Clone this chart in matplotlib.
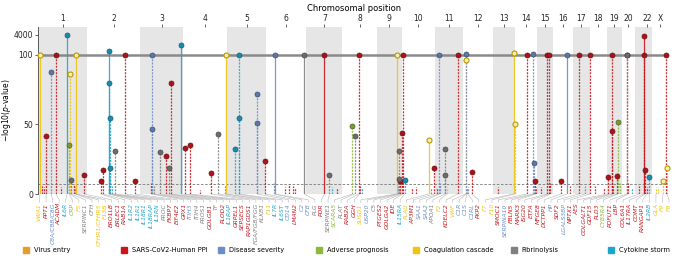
import numpy as np
import matplotlib
matplotlib.use('Agg')
import matplotlib.pyplot as plt
from matplotlib.lines import Line2D
from matplotlib.colors import to_rgb

# Chromosome layout on the cumulative genome axis
chrom_names = ['1', '2', '3', '4', '5', '6', '7', '8', '9', '10', '11', '12',
               '13', '14', '15', '16', '17', '18', '19', '20', '21', '22', 'X']
chrom_edges = [39, 88, 141, 184, 228, 267, 307, 343, 377, 402, 435, 463,
               493, 515, 537, 553, 573, 590, 607, 622, 635, 643, 652, 668]
chrom_shaded = [1, 0, 1, 0, 1, 0, 1, 0, 1, 0, 1, 0,
                1, 0, 1, 0, 1, 0, 1, 0, 1, 1, 0]

# Categories
cat_keys = ['V', 'P', 'D', 'A', 'C', 'F', 'S']
cat_names = ['Virus entry', 'SARS-CoV2-Human PPI', 'Disease severity',
             'Adverse prognosis', 'Coagulation cascade', 'Fibrinolysis',
             'Cytokine storm']
cat_colors = ['#E89B2E', '#C8161D', '#6C8DC9', '#8CB83C', '#F1C40F',
              '#808080', '#1FA5CB']

# Labelled genes: name, category, position, peak -log10(p)
gene_names = ['VWA1', 'PPT1', 'C8A/C8B/C8G', 'ACADM', 'IL6R', 'CRP', 'F5',
              'SERPINC1', 'CFH', 'CFHR1/CFHR5', 'F13B', 'ERO1LB', 'ERLEC1',
              'RAB1A', 'IL1R2', 'IL1R1', 'IL18R1', 'IL18RAP', 'IL1RN', 'PROC',
              'FKBP7', 'EIF4E2', 'GPX1', 'ITIH3', 'ITIH4', 'PROS1', 'GOLGB1',
              'TF', 'PLOD2', 'IL1RAP', 'GRPEL1', 'SEPSECS', 'RAP1GDS1',
              'FGA/FGB/FGG', 'KLKB1', 'F11', 'IL7R', 'IL6ST', 'CD14', 'LMAN2',
              'C2', 'CFB', 'PLG', 'POR', 'SERPINE1', 'SCARA5', 'PLAT', 'RAB2A',
              'GGH', 'SUSD1', 'USP20', 'C5', 'PTGES2', 'GOLGA2', 'IDE',
              'IL15RA', 'PLAU', 'AP3M1', 'SAA1', 'SAA2', 'APOA1', 'F2',
              'KDELC2', 'VWF', 'C1R', 'C1S', 'C1RL', 'PKP2', 'F7', 'F10',
              'SMOC1', 'SERPINA10', 'FBLN5', 'MARK3', 'ISG20', 'ETFA', 'MFGE8',
              'DCTPP1', 'HP', 'SDF2', 'LGALS3BP', 'NPTX1', 'AES', 'COLGALT1',
              'GDF15', 'PLD3', 'CYB5R4', 'POFUT1', 'LBP', 'COL6A1', 'IL17RA',
              'COMT', 'RANGAP1', 'IL2RB', 'GLA', 'F9', 'F8']
gene_cats = ['C', 'P', 'D', 'P', 'S', 'A', 'C',
             'F', 'F', 'C', 'C', 'P', 'P',
             'P', 'S', 'S', 'S', 'S', 'S', 'F',
             'P', 'P', 'P', 'D', 'F', 'F', 'P',
             'F', 'P', 'S', 'P', 'P', 'P',
             'F', 'F', 'C', 'S', 'S', 'D', 'P',
             'D', 'D', 'F', 'P', 'F', 'A', 'F', 'P',
             'P', 'C', 'D', 'F', 'P', 'P', 'P',
             'S', 'C', 'P', 'D', 'D', 'F', 'C',
             'P', 'C', 'D', 'D', 'D', 'P', 'C', 'C',
             'P', 'D', 'P', 'P', 'P', 'P', 'P',
             'P', 'D', 'P', 'D', 'P', 'P', 'P',
             'P', 'P', 'A', 'P', 'P', 'P', 'P',
             'P', 'P', 'S', 'C', 'C', 'C']
gene_pos = [41, 47, 52, 57, 68, 70, 71,
            72, 76, 76.5, 77, 85, 102,
            104, 110, 110.3, 110.6, 111, 113, 116,
            126, 136, 152, 153, 155, 161, 167,
            170, 172, 182, 186, 191, 212,
            219, 226, 227, 236, 240, 258, 266,
            275, 276, 305, 325, 330, 353, 355, 359,
            360, 397, 398, 399, 400, 402, 403,
            405, 429, 434, 439, 440, 445, 447,
            458, 466, 466.5, 467, 468, 472, 514, 515,
            527, 533, 535, 536, 547, 549, 550,
            561, 567, 579, 585, 590, 608, 612,
            613, 617, 618, 627, 628, 639, 644,
            645, 647, 649, 656, 663, 667]
gene_peak = [100, 42, 88, 100, 4000, 35, 86,
             10, 5, 4, 100, 14, 9,
             17, 200, 80, 55, 19, 6, 31,
             100, 9, 8, 100, 6, 30, 27,
             19, 80, 600, 33, 35, 15,
             43, 6, 100, 32, 100, 72, 24,
             8, 100, 100, 100, 14, 49, 42, 100,
             6, 100, 6, 31, 9, 44, 100,
             10, 39, 19, 100, 8, 32, 5,
             100, 96, 110, 4, 5, 16, 150, 5,
             100, 110, 9, 5, 100, 100, 8,
             9, 100, 100, 6, 100, 12, 100,
             6, 13, 52, 100, 8, 6, 3000,
             17, 5, 12, 5, 9, 19]

# genes whose SNP column reads as a continuous line
solid_stems = ['VWA1', 'IL6R', 'F13B', 'IL1R2', 'IL1RAP', 'F11', 'CFB', 'PLG',
               'SUSD1', 'PLAU', 'F7', 'HP', 'POR', 'IL17RA']

# Further peaks without their own label
extra_pos = [153, 258, 515, 534, 612, 644, 399, 445, 666, 627, 43, 45, 62,
             75, 201, 286, 290, 294, 296, 338, 333, 362, 412, 416, 431, 437,
             498, 541, 570, 595, 604, 620, 632, 658, 240, 110]
extra_cats = ['D', 'D', 'C', 'D', 'P', 'P', 'F', 'F', 'P', 'F', 'P', 'P', 'P',
              'P', 'P', 'P', 'P', 'P', 'P', 'P', 'S', 'S', 'P', 'P', 'F', 'P',
              'P', 'P', 'P', 'P', 'P', 'A', 'S', 'C', 'S', 'F']
extra_peak = [47, 51, 50, 22, 45, 100, 11, 14, 100, 100, 6, 5, 5,
              7, 3, 5, 7, 6, 4, 4, 5, 4, 4, 5, 4, 4,
              5, 5, 6, 6, 4, 8, 4, 5, 55, 4]

color_of = dict(zip(cat_keys, cat_colors))

# Broken y scale: linear up to 100, compressed log above
K = 9.0


def fwd(v):
    v = np.asarray(v, dtype=float)
    return np.where(v <= 100, v, 100 + K * np.log10(np.maximum(v, 100) / 100))


def inv(u):
    u = np.asarray(u, dtype=float)
    return np.where(u <= 100, u, 100 * 10 ** ((np.minimum(u, 200) - 100) / K))


def darker(c, f=0.65):
    r, g, b = to_rgb(c)
    return (r * f, g * f, b * f)


fig = plt.figure(figsize=(6.74, 2.56), dpi=100)
ax = fig.add_axes([38 / 674, 1 - 194 / 256, 630 / 674, 167 / 256])
ax.set_yscale('function', functions=(fwd, inv))
ax.set_xlim(chrom_edges[0], chrom_edges[-1])
ax.set_ylim(0, 17000)

# chromosome shading
for i in range(len(chrom_names)):
    if chrom_shaded[i]:
        ax.axvspan(chrom_edges[i], chrom_edges[i + 1], color='#e6e6e6', lw=0, zorder=0)

ax.axhline(100, color='#8a8a8a', lw=1.8, zorder=1)
ax.axhline(7.3, color='#777777', lw=0.6, ls=(0, (3, 2)), zorder=1)

all_pos = list(gene_pos) + list(extra_pos)
all_cat = list(gene_cats) + list(extra_cats)
all_peak = list(gene_peak) + list(extra_peak)
all_solid = [n in solid_stems for n in gene_names] + [False] * len(extra_pos)

# stems (columns of SNPs)
for x, c, v, solid in zip(all_pos, all_cat, all_peak, all_solid):
    ls = '-' if solid else (0, (1.6, 1.0))
    ax.vlines(x, 0, v, color=color_of[c], lw=0.9, ls=ls, alpha=0.9, zorder=2)

# peak markers
for x, c, v in zip(all_pos, all_cat, all_peak):
    if v < 9:
        continue
    col = color_of[c]
    if c == 'C':
        ax.scatter(x, v, s=13, facecolor='#fbefb0', edgecolor='#b89a00',
                   linewidth=0.8, zorder=4, clip_on=False)
    else:
        ax.scatter(x, v, s=13, facecolor=darker(col, 0.85), edgecolor=darker(col, 0.55),
                   linewidth=0.5, zorder=4, clip_on=False)

# y axis
ax.set_yticks([0, 50, 100, 4000])
ax.set_yticklabels(['0', '50', '100', '4000'])
ax.yaxis.set_minor_locator(matplotlib.ticker.NullLocator())
ax.tick_params(axis='y', labelsize=5.5, length=2, width=0.5, pad=1.5, colors='#222222')
ax.set_ylabel(r'$-$log10($p$-value)', fontsize=5.5)
ax.yaxis.set_label_coords(-25 / 630, 0.5)

# chromosome labels on top
centers = [(chrom_edges[i] + chrom_edges[i + 1]) / 2 for i in range(len(chrom_names))]
show = [i for i, n in enumerate(chrom_names) if n != '21']
ax.xaxis.set_ticks_position('top')
ax.set_xticks([centers[i] for i in show])
ax.set_xticklabels([chrom_names[i] for i in show])
ax.tick_params(axis='x', labelsize=5.5, length=2, width=0.5, pad=1, colors='#222222')
for s in ['top', 'right', 'bottom']:
    ax.spines[s].set_visible(False)
ax.spines['left'].set_linewidth(0.6)
ax.spines['left'].set_color('#444444')

fig.text(0.525, 0.985, 'Chromosomal position', ha='center', va='top', fontsize=6)

# gene labels fanned out below the axis
label_x = np.linspace(40.5, 669, len(gene_names))
trans = ax.get_xaxis_transform()
for gx, lx, name, c in zip(gene_pos, label_x, gene_names, gene_cats):
    ax.plot([gx, lx, lx], [0, -0.035, -0.05], color='#b5b5b5', lw=0.4,
            transform=trans, clip_on=False, zorder=1)
    ax.text(lx, -0.055, name, transform=trans, rotation=90, ha='center', va='top',
            fontsize=4.3, style='italic', color=color_of[c])

# legend
leg_x = np.linspace(26, 611, len(cat_names)) / 674
for x, name, col in zip(leg_x, cat_names, cat_colors):
    fig.add_artist(Line2D([x], [6 / 256], marker='s', ms=3.8, color=col, lw=0,
                          transform=fig.transFigure))
    fig.text(x + 8 / 674, 6 / 256, name, fontsize=4.8, va='center', ha='left')

fig.savefig('out.png', dpi=100)
